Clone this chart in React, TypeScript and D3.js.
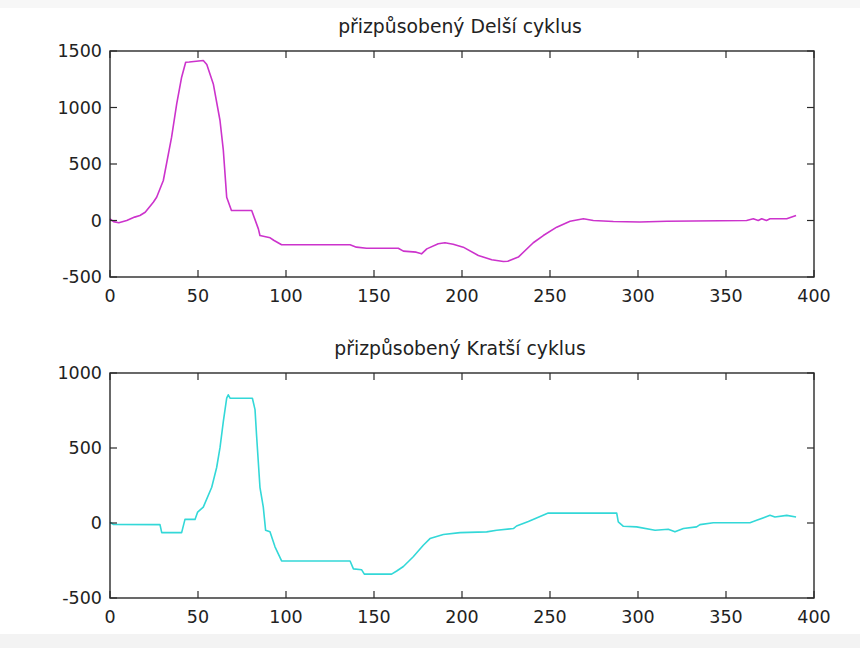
import React from "react";
import * as d3 from "d3";

// Data: upper panel "přizpůsobený Delší cyklus"
const delsiX = [0, 2, 5, 9.5, 14, 17, 20, 24.6, 26.5, 30.3, 35, 37.9, 40.7, 43, 45, 53, 55, 58.7, 62.5, 64.4, 66.3, 69, 80.5, 84.3, 85.2, 91, 93, 97.5, 136.4, 140, 145.8, 163.8, 166.7, 174, 177, 180, 186.5, 190.3, 195, 200.7, 209.3, 216.9, 223.5, 226, 232, 240.5, 246.2, 253.8, 261.4, 269, 274.6, 286, 301, 316.3, 361.7, 365.5, 368.3, 370.3, 373, 375, 384.5, 389.8];
const delsiY = [15, -10, -20, 0, 30, 44, 73, 162, 206, 354, 737, 1032, 1268, 1400, 1402, 1416, 1380, 1209, 885, 620, 206, 88, 88, -74, -133, -153, -175, -215, -215, -236, -245, -245, -271, -280, -295, -251, -206, -197, -210, -236, -310, -348, -363, -360, -324, -197, -133, -59, -6, 15, 0, -9, -13, -6, 0, 15, 0, 15, 0, 15, 15, 44];

// Data: lower panel "přizpůsobený Kratší cyklus"
const kratsiX = [0, 2, 28.4, 29.4, 40.7, 42.6, 48.3, 49.8, 53, 57.8, 60.6, 62.5, 64.4, 66.3, 67.2, 68.2, 80.9, 82.4, 83.3, 85.2, 87.1, 88.4, 90.9, 93.75, 97.5, 136.4, 138.3, 143, 144.5, 160, 162.9, 166.7, 172.3, 178, 181.8, 189.4, 198.9, 214, 219.7, 229.2, 231, 237.7, 249, 287.9, 288.8, 291.7, 299.2, 309.7, 317.2, 321, 325.8, 333.3, 335.2, 342.8, 363.6, 367.4, 375, 377.8, 384.5, 389.8];
const kratsiY = [5, -10, -11, -64, -64, 24, 24, 73, 106, 238, 370, 502, 678, 832, 855, 832, 832, 756, 580, 238, 106, -48, -59, -159, -253, -253, -306, -312, -341, -341, -320, -290, -225, -148, -104, -77, -64, -59, -48, -37, -20, 10, 66, 66, 7, -22, -26, -48, -42, -59, -37, -26, -11, 2, 2, 18, 51, 40, 51, 40];

const xTicks = [0, 50, 100, 150, 200, 250, 300, 350, 400];
const yTicksTop = [-500, 0, 500, 1000, 1500];
const yTicksBottom = [-500, 0, 500, 1000];

const titles = ["přizpůsobený Delší cyklus", "přizpůsobený Kratší cyklus"];

const W = 860;
const H = 648;
const FONT = "'DejaVu Sans', sans-serif";

type PanelProps = {
  xs: number[];
  ys: number[];
  yTicks: number[];
  top: number;
  bottom: number;
  title: string;
  titleY: number;
  color: string;
};

function Panel({ xs, ys, yTicks, top, bottom, title, titleY, color }: PanelProps) {
  const left = 110;
  const right = 814;
  const x = d3.scaleLinear().domain([0, 400]).range([left, right]);
  const y = d3
    .scaleLinear()
    .domain([yTicks[0], yTicks[yTicks.length - 1]])
    .range([bottom, top]);
  const pts: [number, number][] = xs.map((v, i) => [v, ys[i]]);
  const line = d3
    .line<[number, number]>()
    .x((d) => x(d[0]))
    .y((d) => y(d[1]));
  const tl = 7;
  const axisColor = "#2a2a2a";
  return (
    <g>
      <rect x={left} y={top} width={right - left} height={bottom - top} fill="#ffffff" />
      <path d={line(pts) || ""} fill="none" stroke={color} strokeWidth={1.6} strokeLinejoin="round" />
      <rect x={left} y={top} width={right - left} height={bottom - top} fill="none" stroke={axisColor} strokeWidth={1.4} />
      {xTicks.map((t) => (
        <g key={"x" + t}>
          <line x1={x(t)} x2={x(t)} y1={bottom} y2={bottom - tl} stroke={axisColor} strokeWidth={1.2} />
          <line x1={x(t)} x2={x(t)} y1={top} y2={top + tl} stroke={axisColor} strokeWidth={1.2} />
          <text x={x(t)} y={bottom + 25} textAnchor="middle" fontFamily={FONT} fontSize={17.5} fill="#222">
            {t}
          </text>
        </g>
      ))}
      {yTicks.map((t) => (
        <g key={"y" + t}>
          <line x1={left} x2={left + tl} y1={y(t)} y2={y(t)} stroke={axisColor} strokeWidth={1.2} />
          <line x1={right} x2={right - tl} y1={y(t)} y2={y(t)} stroke={axisColor} strokeWidth={1.2} />
          <text x={102} y={y(t) + 6.3} textAnchor="end" fontFamily={FONT} fontSize={17.5} fill="#222">
            {t}
          </text>
        </g>
      ))}
      <text x={460} y={titleY} textAnchor="middle" fontFamily={FONT} fontSize={18.8} fill="#222">
        {title}
      </text>
    </g>
  );
}

export default function App() {
  return (
    <svg
      width={W}
      height={H}
      viewBox={`0 0 ${W} ${H}`}
      style={{ position: "absolute", left: 0, top: 0, display: "block" }}
    >
      <rect x={0} y={0} width={W} height={H} fill="#ffffff" />
      <rect x={0} y={0} width={W} height={8} fill="#f7f7f7" />
      <rect x={0} y={634} width={W} height={14} fill="#f3f3f3" />
      <Panel xs={delsiX} ys={delsiY} yTicks={yTicksTop} top={51} bottom={277} title={titles[0]} titleY={33} color="#cc33cc" />
      <Panel xs={kratsiX} ys={kratsiY} yTicks={yTicksBottom} top={373} bottom={598} title={titles[1]} titleY={355} color="#33d8d8" />
    </svg>
  );
}
